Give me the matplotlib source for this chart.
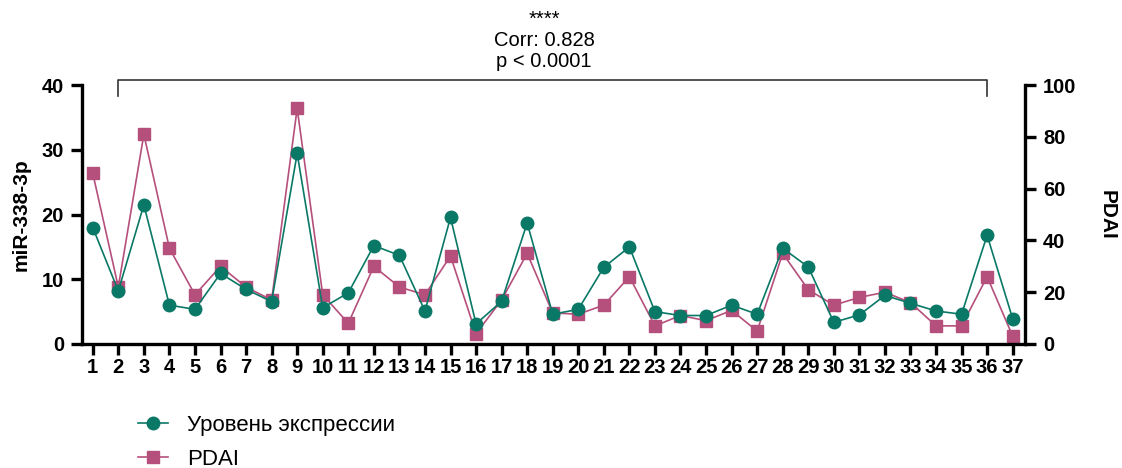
import matplotlib
matplotlib.use("Agg")
import matplotlib.pyplot as plt
from matplotlib.lines import Line2D

plt.rcParams["font.family"] = ["Liberation Sans", "DejaVu Sans"]

patients = list(range(1, 38))
expression = [18.0, 8.2, 21.5, 6.0, 5.35, 10.9, 8.45, 6.55, 29.45, 5.6,
              7.9, 15.2, 13.7, 5.1, 19.55, 3.1, 6.6, 18.7, 4.6, 5.35,
              11.85, 15.0, 5.0, 4.4, 4.4, 6.0, 4.6, 14.8, 11.9, 3.35,
              4.5, 7.5, 6.3, 5.1, 4.6, 16.8, 3.9]
pdai = [66, 22, 81, 37, 19, 30, 22, 17, 91, 19,
        8, 30, 22, 19, 34, 4, 17, 35, 12, 11.5,
        15, 26, 7, 11, 9, 13, 5, 35, 21, 15,
        18, 20, 16, 7, 7, 26, 3]

green = "#0a7866"
pink = "#b54f7c"
bold = {"fontweight": "bold", "fontsize": 14.5}

fig = plt.figure(figsize=(11.22, 4.68), dpi=100)
ax = fig.add_axes([0.0731, 0.265, 0.8404, 0.553])
ax2 = ax.twinx()

ax.plot(patients, expression, color=green, lw=1.2, marker="o",
        markersize=9, zorder=3)
ax2.plot(patients, pdai, color=pink, lw=1.2, marker="s",
         markersize=8.3, zorder=2)
ax.set_zorder(ax2.get_zorder() + 1)
ax.patch.set_visible(False)

ax.set_xlim(0.58, 37.48)
ax.set_ylim(0, 40)
ax2.set_ylim(0, 100)
ax.set_xticks(patients)
ax.set_xticklabels([str(p) for p in patients], **bold)
ax.set_yticks([0, 10, 20, 30, 40])
ax.set_yticklabels(["0", "10", "20", "30", "40"], **bold)
ax2.set_yticks([0, 20, 40, 60, 80, 100])
ax2.set_yticklabels(["0", "20", "40", "60", "80", "100"], **bold)
ax.set_ylabel("miR-338-3p", fontsize=15, fontweight="bold", labelpad=8)
ax2.set_ylabel("PDAI", fontsize=15, fontweight="bold", rotation=270,
               labelpad=29)

for a in (ax, ax2):
    a.spines["top"].set_visible(False)
    for s in a.spines.values():
        s.set_linewidth(2.4)
    a.tick_params(width=2.4, length=8)
ax.spines["right"].set_visible(False)
ax2.spines["left"].set_visible(False)
ax2.spines["bottom"].set_visible(False)
ax.tick_params(axis="x", pad=2)
ax.tick_params(axis="y", pad=5)
ax2.tick_params(axis="y", pad=5)

# significance bracket between patient 2 and patient 36
ax.plot([2, 2, 36, 36], [38.3, 40.8, 40.8, 38.3],
        color="#333333", lw=1.2, clip_on=False)
ax.text(18.66, 42.8, "p < 0.0001", ha="center", va="baseline",
        fontsize=14.5)
ax.text(18.66, 46.0, "Corr: 0.828", ha="center", va="baseline",
        fontsize=14.5)
ax.text(18.66, 49.4, "****", ha="center", va="baseline", fontsize=14.5)

handles = [
    Line2D([], [], color=green, lw=1.2, marker="o", markersize=9),
    Line2D([], [], color=pink, lw=1.2, marker="s", markersize=8.3),
]
fig.legend(handles, ["Уровень экспрессии", "PDAI"], loc="upper left",
           bbox_to_anchor=(0.115, 0.132), frameon=False, fontsize=16,
           handlelength=1.35, handletextpad=0.85, labelspacing=0.58,
           borderaxespad=0)

fig.savefig("out.png", dpi=100)
